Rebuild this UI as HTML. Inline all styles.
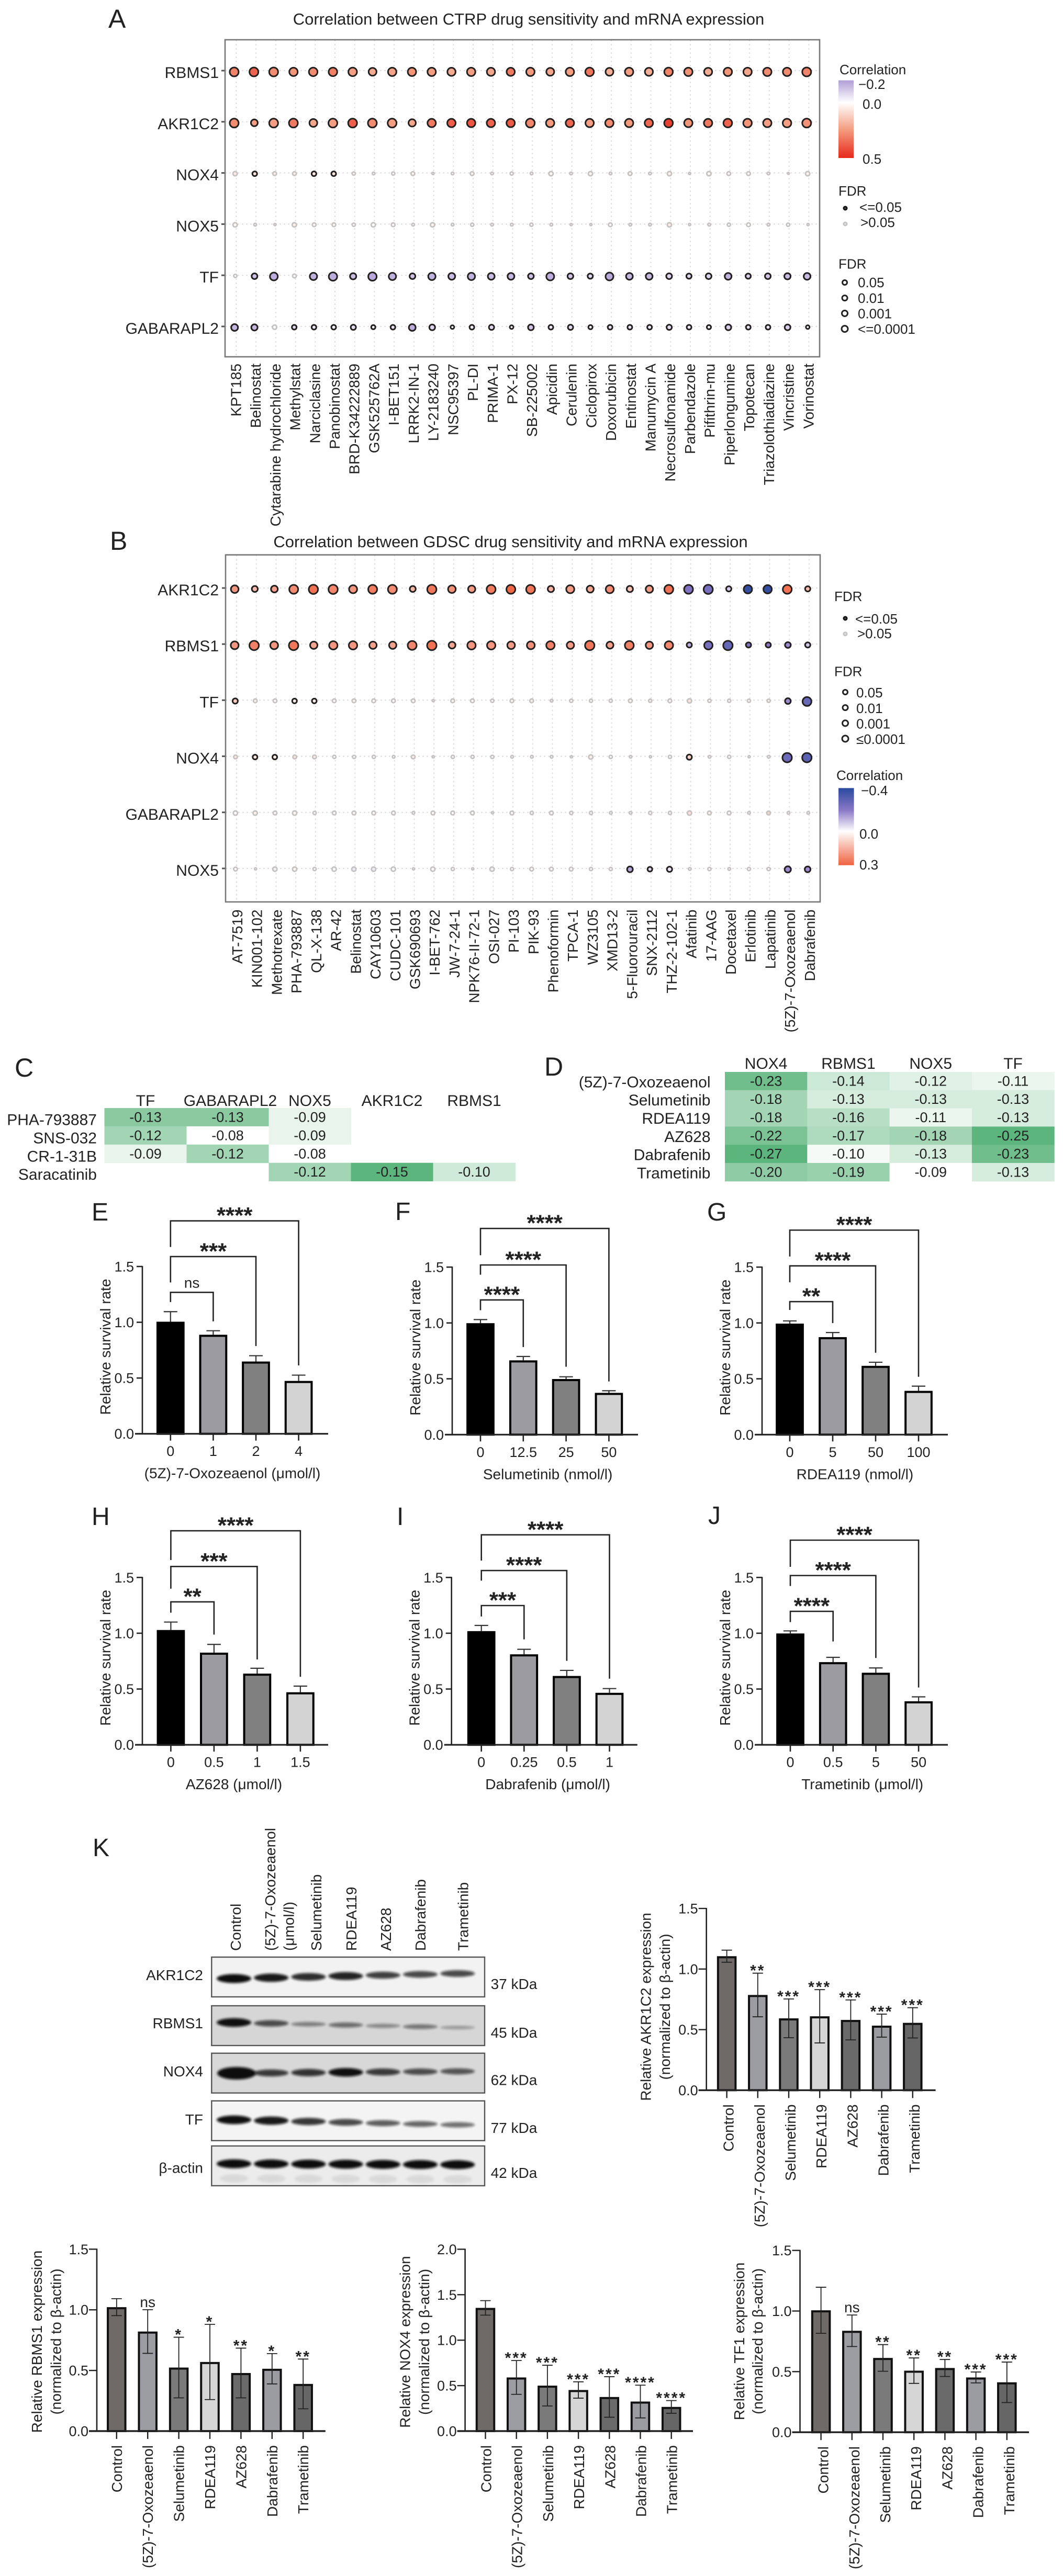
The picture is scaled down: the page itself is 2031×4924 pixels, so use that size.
<!DOCTYPE html>
<html>
<head>
<meta charset="utf-8">
<title>Drug sensitivity correlation figure</title>
<style>
html,body{margin:0;padding:0;background:#fff}
svg{display:block}
text{font-family:"Liberation Sans",sans-serif;fill:#222}
</style>
</head>
<body>
<svg id="page" width="2031" height="4924" viewBox="0 0 2031 4924">
<defs>
<linearGradient id="grad-a" x1="0" y1="0" x2="0" y2="1">
<stop offset="0" stop-color="#b09fd6"/><stop offset="0.286" stop-color="#ffffff"/><stop offset="0.643" stop-color="#f39a7d"/><stop offset="1" stop-color="#e7281a"/>
</linearGradient>
<linearGradient id="grad-b" x1="0" y1="0" x2="0" y2="1">
<stop offset="0" stop-color="#2a4a9e"/><stop offset="0.286" stop-color="#8a78c6"/><stop offset="0.56" stop-color="#ffffff"/><stop offset="1" stop-color="#ee6240"/>
</linearGradient>
<filter id="band-blur" x="-20%" y="-60%" width="140%" height="220%"><feGaussianBlur stdDeviation="2.4"/></filter>
</defs>

<g font-size="48">
<text x="207" y="53" font-size="50">A</text>
<text x="210" y="1051" font-size="50">B</text>
<text x="28" y="2058" font-size="50">C</text>
<text x="1040" y="2056" font-size="50">D</text>
<text x="175" y="2333">E</text>
<text x="755" y="2332">F</text>
<text x="1351" y="2333">G</text>
<text x="175" y="2915">H</text>
<text x="758" y="2915">I</text>
<text x="1353" y="2913">J</text>
<text x="177" y="3548">K</text>
</g>

<text x="1010" y="47" font-size="31" text-anchor="middle">Correlation between CTRP drug sensitivity and mRNA expression</text>
<text x="975.5" y="1046" font-size="31" text-anchor="middle">Correlation between GDSC drug sensitivity and mRNA expression</text>

<g id="dots-a"></g>
<g id="dots-b"></g>

<g font-size="26">
<text x="1604" y="142">Correlation</text>
<rect x="1602" y="153.6" width="29" height="148.4" fill="url(#grad-a)"/>
<text x="1640" y="170">−0.2</text>
<text x="1648" y="208">0.0</text>
<text x="1648" y="313">0.5</text>
<text x="1602" y="374">FDR</text>
<circle cx="1615" cy="398" r="3.2" fill="#444" stroke="#111" stroke-width="2.6"/>
<text x="1642" y="405">&lt;=0.05</text>
<circle cx="1615" cy="428" r="3.2" fill="#ddd" stroke="#c6c2c2" stroke-width="2.6"/>
<text x="1644" y="434">&gt;0.05</text>
<text x="1602" y="513.5">FDR</text>
<circle cx="1614" cy="540" r="4.5" fill="#fff" stroke="#222" stroke-width="3"/>
<circle cx="1614" cy="569.6" r="5" fill="#fff" stroke="#222" stroke-width="3"/>
<circle cx="1614" cy="599" r="5.5" fill="#fff" stroke="#222" stroke-width="3"/>
<circle cx="1614" cy="628.6" r="6" fill="#fff" stroke="#222" stroke-width="3"/>
<text x="1639" y="549">0.05</text>
<text x="1639" y="579">0.01</text>
<text x="1639" y="608.5">0.001</text>
<text x="1639" y="638">&lt;=0.0001</text>
</g>

<g font-size="26">
<text x="1594" y="1149">FDR</text>
<circle cx="1615" cy="1182" r="3.2" fill="#444" stroke="#111" stroke-width="2.6"/>
<text x="1634" y="1192">&lt;=0.05</text>
<circle cx="1615" cy="1211.7" r="3.2" fill="#ddd" stroke="#c6c2c2" stroke-width="2.6"/>
<text x="1638" y="1220">&gt;0.05</text>
<text x="1594" y="1292.5">FDR</text>
<circle cx="1615" cy="1323" r="4.5" fill="#fff" stroke="#222" stroke-width="3"/>
<circle cx="1615" cy="1352.6" r="5" fill="#fff" stroke="#222" stroke-width="3"/>
<circle cx="1615" cy="1382.4" r="5.5" fill="#fff" stroke="#222" stroke-width="3"/>
<circle cx="1615" cy="1412" r="6" fill="#fff" stroke="#222" stroke-width="3"/>
<text x="1636" y="1333">0.05</text>
<text x="1636" y="1363">0.01</text>
<text x="1636" y="1392.5">0.001</text>
<text x="1636" y="1422">≤0.0001</text>
<text x="1598" y="1491">Correlation</text>
<rect x="1602" y="1506.4" width="29.6" height="147.4" fill="url(#grad-b)"/>
<text x="1645" y="1520">−0.4</text>
<text x="1642" y="1603">0.0</text>
<text x="1642" y="1662">0.3</text>
</g>

<g id="heat-c"></g>
<g id="heat-d"></g>
<g id="bar-e"></g>
<g id="bar-f"></g>
<g id="bar-g"></g>
<g id="bar-h"></g>
<g id="bar-i"></g>
<g id="bar-j"></g>
<g id="blots"></g>
<g id="exp-akr"></g>
<g id="exp-rbms"></g>
<g id="exp-nox"></g>
<g id="exp-tf"></g>
</svg>

<script>
// ---------- Panel A data ----------
const genesA = ['RBMS1','AKR1C2','NOX4','NOX5','TF','GABARAPL2'];
const drugsA = ['KPT185','Belinostat','Cytarabine hydrochloride','Methylstat','Narciclasine','Panobinostat','BRD-K34222889','GSK525762A','I-BET151','LRRK2-IN-1','LY-2183240','NSC95397','PL-DI','PRIMA-1','PX-12','SB-225002','Apicidin','Cerulenin','Ciclopirox','Doxorubicin','Entinostat','Manumycin A','Necrosulfonamide','Parbendazole','Pifithrin-mu','Piperlongumine','Topotecan','Triazolothiadiazine','Vincristine','Vorinostat'];
const corrA_RBMS1 = [.30,.37,.28,.26,.28,.31,.24,.21,.23,.26,.24,.21,.24,.22,.32,.25,.22,.24,.33,.20,.24,.20,.30,.27,.21,.26,.22,.28,.28,.30];
const corrA_AKR1C2 = [.28,.24,.24,.32,.22,.24,.38,.28,.24,.22,.32,.38,.40,.37,.39,.29,.25,.36,.24,.28,.25,.36,.45,.26,.32,.37,.26,.24,.24,.27];
const corrA_NOX4 = [.05,.07,.04,.04,.06,.07,.02,.01,.02,.03,.01,.01,.03,.01,.01,.01,.02,.01,.03,.01,.03,.01,.03,.01,.02,.02,.02,.01,.01,.03];
const corrA_NOX5 = [.02,-.01,-.01,.04,.01,.02,.01,.01,.01,-.01,.03,-.01,.01,-.01,-.01,.01,-.01,-.01,-.01,.01,-.01,-.01,.05,-.01,-.01,-.01,.01,-.01,-.01,-.01];
const corrA_TF = [.01,-.13,-.17,-.01,-.16,-.17,-.14,-.18,-.16,-.13,-.16,-.14,-.16,-.14,-.15,-.13,-.17,-.12,-.08,-.18,-.15,-.15,-.09,-.09,-.09,-.16,-.10,-.12,-.14,-.14];
const corrA_GABARAPL2 = [-.15,-.15,-.01,-.08,-.05,-.03,-.07,-.03,-.06,-.17,-.09,-.02,-.04,-.08,-.02,-.12,-.05,-.08,-.03,-.07,-.06,-.05,-.07,-.05,-.03,-.1,-.06,-.05,-.1,-.02];
const fdrA_RBMS1 = [6.3,6.3,6.3,5.8,6,6,6,5.3,5.8,5.8,5.8,5.6,5.8,5.6,5.6,5.8,5.3,5.8,6,5.3,5.8,5.5,6,5.8,5.5,5.8,5.8,5.8,5.8,6.3];
const fdrA_AKR1C2 = [6.3,4.3,6.3,6.3,5.3,6.3,6.3,6.3,6.3,4.8,5.8,5.8,5.8,5.8,5.8,6.3,5.8,5.8,5.8,5.8,5.8,5.8,6.1,5.8,5.8,6.1,6,5.8,6,6.3];
const fdrA_NOX4 = [1.25,2.3,1,1,2.3,2.3,.75,.5,.75,1,.25,.5,1,.5,.75,.5,1.25,.5,1.25,.5,1,.5,1.25,.25,1.25,1,1,.5,.1,1.25];
const fdrA_NOX5 = [1.25,.5,.25,1.25,1,1,.75,1.25,1,.5,1.25,.5,.75,.5,.5,.75,.5,.25,.25,1,.5,.5,1.25,.25,.5,.75,1,.5,.75,.25];
const fdrA_TF = [.75,3.3,5.3,1,4.8,5.8,3.8,5.8,4.8,3.3,4.8,4.3,4.8,4.3,4.3,3.3,5.3,3.3,2.8,5.3,4.3,4.3,3.3,2.8,3.3,4.3,2.8,3.3,3.8,4.3];
const fdrA_GABARAPL2 = [4.3,3.8,1.25,2.3,2.3,2.3,2.8,1.8,2.3,4.3,3.3,1.3,2.3,2.8,1.3,3.3,2.3,2.8,1.8,2.3,2.3,2.3,2.8,2.3,1.8,3.3,2.3,2.3,3.3,1.3];

// ---------- Panel B data ----------
const genesB = ['AKR1C2','RBMS1','TF','NOX4','GABARAPL2','NOX5'];
const drugsB = ['AT-7519','KIN001-102','Methotrexate','PHA-793887','QL-X-138','AR-42','Belinostat','CAY10603','CUDC-101','GSK690693','I-BET-762','JW-7-24-1','NPK76-II-72-1','OSI-027','PI-103','PIK-93','Phenoformin','TPCA-1','WZ3105','XMD13-2','5-Fluorouracil','SNX-2112','THZ-2-102-1','Afatinib','17-AAG','Docetaxel','Erlotinib','Lapatinib','(5Z)-7-Oxozeaenol','Dabrafenib'];
const corrB_AKR1C2 = [.20,.13,.18,.22,.27,.23,.20,.25,.22,.14,.26,.21,.19,.25,.29,.26,.15,.19,.17,.22,.12,.19,.27,-.22,-.24,-.08,-.38,-.38,.27,.13];
const corrB_RBMS1 = [.20,.24,.20,.26,.17,.20,.20,.18,.18,.23,.27,.17,.20,.20,.19,.21,.24,.19,.26,.18,.24,.20,.23,-.12,-.24,-.28,-.22,-.20,-.17,-.08];
const corrB_TF = [.10,.03,.01,.03,.03,.01,.02,.01,.01,.02,.01,.02,.01,.01,.02,.03,.03,.01,.01,.01,.02,.03,.02,.05,.01,.01,.01,.03,-.17,-.27];
const corrB_NOX4 = [.05,.04,.03,.05,.04,.01,.01,.01,.01,.03,.01,.01,.01,.01,.01,.01,.01,.01,.03,.01,.01,.01,.01,.08,.01,.01,.01,.01,-.26,-.30];
const corrB_GABARAPL2 = [.01,.03,.01,.02,.01,.01,.01,.01,.01,.01,.01,.01,.01,.01,.01,.01,.01,.01,.01,.01,.01,.01,.01,.06,.03,.01,.01,.08,.01,.01];
const corrB_NOX5 = [.01,.01,-.02,.02,.01,-.01,-.03,-.03,-.01,.01,-.01,.01,.01,-.02,.01,.01,.01,.01,.01,.01,-.13,-.06,-.04,.01,.01,.01,.01,.01,-.17,-.17];
const fdrB_AKR1C2 = [5.1,3.5,4.3,6.3,6.6,6.6,5.5,6.3,6.3,3.5,6.6,5.1,4.7,6.3,6.3,6.3,3.8,5.5,4.5,5.5,3.8,4.8,6.3,6.3,6.6,2.8,5.8,5.8,6.3,2.8];
const fdrB_RBMS1 = [5.3,6.8,5.3,6.8,4.8,5.8,5.8,4.8,4.8,6.3,6.8,4.3,5.8,5.8,5.1,5.3,5.8,4.8,6.8,4.5,6.3,4.8,5.8,2.8,5.8,6.8,2.8,2.8,3.3,2.8];
const fdrB_TF = [2.8,1,1,2.3,2.3,1,1,1,1,1,.25,1,1,.75,1,1,.5,.75,.75,.75,1,.75,1,1.25,.75,.75,.75,.75,3.3,6.3];
const fdrB_NOX4 = [1,2.3,2.3,1,1,.75,.75,.75,.5,1,.25,.75,.75,.75,.5,.5,.5,.25,1.25,.75,.4,.25,.75,2.8,.5,.75,.25,.5,6.8,6.8];
const fdrB_GABARAPL2 = [1.25,1.25,1,1.25,.75,1,1,1,1,.5,1,1,1,.25,1,.75,1,.75,.75,.5,.5,.75,.75,1.25,1,1,.5,1,.5,.5];
const fdrB_NOX5 = [1,.25,1.25,1.25,.75,1.25,1.25,1.29,1.25,.25,1.25,.75,.25,1.25,.75,1,1,1,.75,.75,3.3,2.3,2.8,.5,.75,.5,.75,.75,3.8,3.3];

// ---------- Heatmap data ----------
const heatCCols = ['TF','GABARAPL2','NOX5','AKR1C2','RBMS1'];
const heatCRows = ['PHA-793887','SNS-032','CR-1-31B','Saracatinib'];
const heatC_PHA = [-0.13,-0.13,-0.09,null,null];
const heatC_SNS = [-0.12,-0.08,-0.09,null,null];
const heatC_CR = [-0.09,-0.12,-0.08,null,null];
const heatC_Sara = [null,null,-0.12,-0.15,-0.10];
const heatDCols = ['NOX4','RBMS1','NOX5','TF'];
const heatDRows = ['(5Z)-7-Oxozeaenol','Selumetinib','RDEA119','AZ628','Dabrafenib','Trametinib'];
const heatD_Oxo = [-0.23,-0.14,-0.12,-0.11];
const heatD_Sel = [-0.18,-0.13,-0.13,-0.13];
const heatD_RDEA = [-0.18,-0.16,-0.11,-0.13];
const heatD_AZ = [-0.22,-0.17,-0.18,-0.25];
const heatD_Dab = [-0.27,-0.10,-0.13,-0.23];
const heatD_Tra = [-0.20,-0.19,-0.09,-0.13];

// ---------- Survival bar data ----------
const yTicks15 = [0,0.5,1,1.5];
const yTicks20 = [0,0.5,1,1.5,2];
const dosesE = ['0','1','2','4'];
const valuesE = [1.005,0.888,0.648,0.474];
const errorsE = [0.09,0.036,0.052,0.052];
const bracketsE = [[0,3,1.909,1.675,0.613,'****'],[0,2,1.589,1.357,0.787,'***'],[0,1,1.268,1.181,1.008,'ns']];
const dosesF = ['0','12.5','25','50'];
const valuesF = [0.998,0.665,0.498,0.374];
const errorsF = [0.032,0.035,0.02,0.019];
const bracketsF = [[0,3,1.846,1.606,0.476,'****'],[0,2,1.519,1.432,0.608,'****'],[0,1,1.206,1.114,0.784,'****']];
const dosesG = ['0','5','50','100'];
const valuesG = [0.994,0.873,0.616,0.392];
const errorsG = [0.024,0.041,0.032,0.042];
const bracketsG = [[0,3,1.831,1.595,0.518,'****'],[0,2,1.511,1.364,0.733,'****'],[0,1,1.191,1.116,0.999,'**']];
const dosesH = ['0','0.5','1','1.5'];
const valuesH = [1.029,0.826,0.638,0.471];
const errorsH = [0.071,0.074,0.048,0.055];
const bracketsH = [[0,3,1.918,1.656,0.61,'****'],[0,2,1.598,1.399,0.765,'***'],[0,1,1.281,1.184,0.988,'**']];
const dosesI = ['0','0.25','0.5','1'];
const valuesI = [1.019,0.811,0.617,0.466];
const errorsI = [0.051,0.045,0.05,0.038];
const bracketsI = [[0,3,1.882,1.651,0.593,'****'],[0,2,1.562,1.471,0.753,'****'],[0,1,1.248,1.15,0.945,'***']];
const dosesJ = ['0','0.5','5','50'];
const valuesJ = [0.998,0.741,0.646,0.39];
const errorsJ = [0.023,0.043,0.043,0.04];
const bracketsJ = [[0,3,1.834,1.595,0.514,'****'],[0,2,1.517,1.423,0.778,'****'],[0,1,1.196,1.1,0.926,'****']];

// ---------- Expression bar data ----------
const treatments = ['Control','(5Z)-7-Oxozeaenol','Selumetinib','RDEA119','AZ628','Dabrafenib','Trametinib'];
const valuesAKR = [1.106,0.786,0.593,0.61,0.58,0.533,0.556];
const errorsAKR = [0.05,0.18,0.16,0.22,0.165,0.095,0.125];
const marksAKR = ['','**','***','***','***','***','***'];
const valuesRBMS = [1.022,0.821,0.524,0.57,0.479,0.514,0.389];
const errorsRBMS = [0.07,0.18,0.25,0.31,0.205,0.125,0.205];
const marksRBMS = ['','ns','*','*','**','*','**'];
const valuesNOX = [1.355,0.59,0.5,0.452,0.375,0.325,0.266];
const errorsNOX = [0.08,0.186,0.224,0.09,0.223,0.18,0.07];
const marksNOX = ['','***','***','***','***','****','****'];
const valuesTF = [1.006,0.837,0.613,0.508,0.53,0.452,0.412];
const errorsTF = [0.19,0.13,0.11,0.105,0.07,0.045,0.167];
const marksTF = ['','ns','**','**','**','***','***'];

// ---------- Blot data (relative band intensity per lane) ----------
const blotLanes = ['Control','(5Z)-7-Oxozeaenol','Selumetinib','RDEA119','AZ628','Dabrafenib','Trametinib'];
const bandsAKR1C2 = [1,0.9,0.8,0.85,0.7,0.65,0.65];
const bandsRBMS1 = [0.95,0.6,0.3,0.4,0.25,0.35,0.15];
const bandsNOX4 = [1.6,0.7,0.75,0.95,0.7,0.6,0.55];
const bandsTF = [0.95,0.9,0.75,0.65,0.55,0.5,0.45];
const bandsActin = [1,1,1,1,1,1,1];

// ---------- Helpers ----------
const root = document.getElementById('page');
const NS = root.namespaceURI;
function mk(tag, attrs, parent){
  const e = document.createElementNS(NS, tag);
  for (const k in attrs) e.setAttribute(k, attrs[k]);
  parent.appendChild(e);
  return e;
}
function label(str, attrs, parent){
  const e = mk('text', attrs, parent);
  e.textContent = str;
  return e;
}
function hex(c){ return [parseInt(c.slice(1,3),16),parseInt(c.slice(3,5),16),parseInt(c.slice(5,7),16)]; }
function mix(a,b,t){
  const A=hex(a),B=hex(b);
  return 'rgb('+A.map((v,i)=>Math.round(v+(B[i]-v)*t)).join(',')+')';
}
function colorA(v){
  if (v<0) return mix('#ffffff','#b09fd6',Math.min(1,-v/0.2));
  if (v<0.25) return mix('#ffffff','#f39a7d',v/0.25);
  return mix('#f39a7d','#e7281a',Math.min(1,(v-0.25)/0.25));
}
function colorB(v){
  if (v<-0.2) return mix('#8a78c6','#2a4a9e',Math.min(1,(-v-0.2)/0.2));
  if (v<0) return mix('#ffffff','#8a78c6',-v/0.2);
  return mix('#ffffff','#ee6240',Math.min(1,v/0.3));
}
function dotRadius(mlogFdr){ return mlogFdr<1.3 ? 3+2*mlogFdr : 3.7+mlogFdr; }

// ---------- Dot plots ----------
function drawDotPlot(id, box, genes, drugs, corrRows, fdrRows, colorOf, rowLabelOffset){
  const g = document.getElementById(id);
  const gridX = i => box.gx0 + i*box.gstep;
  const rowY = j => box.ry0 + j*box.rstep;
  drugs.forEach((d,i)=>{
    const l = mk('line',{x1:gridX(i),x2:gridX(i),y1:box.top,y2:box.bottom,stroke:'#dedede','stroke-width':2,'stroke-dasharray':'3 5'},g);
    
    
    const t = label(d,{x:0,y:0,'font-size':28,'text-anchor':'end',transform:'translate('+(gridX(i)+box.labelDx)+','+box.labelTop+') rotate(-90)'},g);
    
    
  });
  genes.forEach((name,j)=>{
    const l = mk('line',{x1:box.left,x2:box.right,y1:rowY(j),y2:rowY(j),stroke:'#dedede','stroke-width':2,'stroke-dasharray':'3 5'},g);
    
    
    const tk = mk('line',{x1:box.left-7,x2:box.left,y1:rowY(j),y2:rowY(j),stroke:'#555','stroke-width':3},g);
    
    
    const t = label(name,{x:418,y:rowY(j)+rowLabelOffset,'font-size':30,'text-anchor':'end'},g);
    
    
  });
  const frame = mk('rect',{x:box.left,y:box.top,width:box.right-box.left,height:box.bottom-box.top,fill:'none',stroke:'#777','stroke-width':2.6},g);
  
  
  genes.forEach((name,j)=>{
    drugs.forEach((d,i)=>{
      const v = fdrRows[j][i];
      const r = dotRadius(v);
      const sig = v>=1.3;
      const sw = sig ? 3 : 2.8;
      const base = colorOf(corrRows[j][i]);
      const c = mk('circle',{cx:gridX(i)-0.4*r,cy:rowY(j)+0.25*r,r:r-sw/2,fill:base,stroke:sig?'#241f1f':'#c6c2c2','stroke-width':sw},g);
      
      
    });
  });
}
drawDotPlot('dots-a',{left:430,right:1566,top:76,bottom:682,gx0:451.4,gstep:37.72,ry0:135,rstep:97.8,labelDx:9,labelTop:695},genesA,drugsA,
  [corrA_RBMS1,corrA_AKR1C2,corrA_NOX4,corrA_NOX5,corrA_TF,corrA_GABARAPL2],
  [fdrA_RBMS1,fdrA_AKR1C2,fdrA_NOX4,fdrA_NOX5,fdrA_TF,fdrA_GABARAPL2],colorA,14);
drawDotPlot('dots-b',{left:431,right:1567,top:1060.6,bottom:1724,gx0:452,gstep:37.72,ry0:1124,rstep:107.2,labelDx:11,labelTop:1738.5},genesB,drugsB,
  [corrB_AKR1C2,corrB_RBMS1,corrB_TF,corrB_NOX4,corrB_GABARAPL2,corrB_NOX5],
  [fdrB_AKR1C2,fdrB_RBMS1,fdrB_TF,fdrB_NOX4,fdrB_GABARAPL2,fdrB_NOX5],colorB,14);

// ---------- Heatmaps ----------
function drawHeat(id, lay, cols, rows, grid, lo, span){
  const g = document.getElementById(id);
  const xS = i => lay.x0 + i*lay.w;
  const yS = j => lay.y0 + j*lay.h;
  cols.forEach((c,i)=>{
    const t = label(c,{x:xS(i)+lay.w/2+(lay.colNudge[i]||0),y:lay.colBase,'font-size':30,'text-anchor':'middle'},g);
    
    
  });
  rows.forEach((r,j)=>{
    const t = label(r,{x:lay.rowRight,y:yS(j)+lay.h/2+lay.rowDy,'font-size':30,'text-anchor':'end'},g);
    
    
    grid[j].forEach((v,i)=>{
      if (v===null) return;
      const f = Math.max(0,Math.min(1,(Math.abs(v)-lo)/span));
      const cell = mk('rect',{x:xS(i),y:yS(j),width:lay.w+0.5,height:lay.h+0.5,fill:mix('#ffffff','#5cb57c',f)},g);
      
      
      const tv = label(v.toFixed(2),{x:xS(i)+lay.w/2,y:yS(j)+lay.h/2+9,'font-size':27,'text-anchor':'middle'},g);
      
      
    });
  });
}
drawHeat('heat-c',{x0:199.5,y0:2118,w:157,h:34.9,colBase:2114,rowRight:185,rowDy:15,colNudge:[0,5,0,0,0]},heatCCols,heatCRows,[heatC_PHA,heatC_SNS,heatC_CR,heatC_Sara],0.08,0.07);
drawHeat('heat-d',{x0:1385,y0:2049,w:157.3,h:34.8,colBase:2043,rowRight:1357.5,rowDy:12,colNudge:[0,0,0,0]},heatDCols,heatDRows,[heatD_Oxo,heatD_Sel,heatD_RDEA,heatD_AZ,heatD_Dab,heatD_Tra],0.09,0.16);

// ---------- Survival bar charts ----------
const doseFills = ['#000000','#9c9ca0','#808080','#d3d3d3'];
function drawSurvival(id, lay, doses, values, errors, brackets, xTitle){
  const g = document.getElementById(id);
  const xS = i => lay.x0 + i*lay.step;
  const yS = v => lay.y0 - v*lay.ppu;
  const barW = 53.7;
  values.forEach((v,i)=>{
    const eLine = mk('line',{x1:xS(i),x2:xS(i),y1:yS(v),y2:yS(v+errors[i]),stroke:'#333','stroke-width':2.2},g);
    
    
    const cap = mk('line',{x1:xS(i)-13,x2:xS(i)+13,y1:yS(v+errors[i]),y2:yS(v+errors[i]),stroke:'#333','stroke-width':2.2},g);
    
    
    const b = mk('rect',{x:xS(i)-barW/2+2,y:yS(v)+2,width:barW-4,height:v*lay.ppu-2,fill:doseFills[i],stroke:'#000','stroke-width':4},g);
    
    
    const tk = mk('line',{x1:xS(i),x2:xS(i),y1:lay.y0,y2:lay.y0+13,stroke:'#222','stroke-width':2.6},g);
    
    
    const t = label(doses[i],{x:xS(i),y:lay.y0+42.5,'font-size':27,'text-anchor':'middle'},g);
    
    
  });
  const ax = mk('line',{x1:lay.axisX,x2:lay.axisX,y1:yS(1.5)-1,y2:lay.y0,stroke:'#222','stroke-width':2.6},g);
  
  
  const bx = mk('line',{x1:lay.axisX-14,x2:lay.axisX+355,y1:lay.y0,y2:lay.y0,stroke:'#222','stroke-width':3.2},g);
  
  
  yTicks15.forEach(v=>{
    const tk = mk('line',{x1:lay.axisX-11,x2:lay.axisX,y1:yS(v),y2:yS(v),stroke:'#222','stroke-width':2.6},g);
    
    
    const t = label(v.toFixed(1),{x:lay.axisX-16,y:yS(v)+9.5,'font-size':27,'text-anchor':'end'},g);
    
    
  });
  const yt = label('Relative survival rate',{x:0,y:0,'font-size':28,'text-anchor':'middle',transform:'translate('+(lay.axisX-61)+','+(yS(0.78))+') rotate(-90)'},g);
  
  
  const xt = label(xTitle,{x:lay.titleX,y:lay.y0+85,'font-size':28,'text-anchor':'middle'},g);
  
  
  brackets.forEach(br=>{
    const x1=xS(br[0]),x2=xS(br[1]);
    const p = mk('polyline',{points:x1+','+yS(br[3])+' '+x1+','+yS(br[2])+' '+x2+','+yS(br[2])+' '+x2+','+yS(br[4]),fill:'none',stroke:'#222','stroke-width':2.6},g);
    
    
    const isNs = br[5]==='ns';
    const s = label(br[5],{x:(x1+x2)/2,y:isNs?yS(br[2])-9:yS(br[2])+4.5,'font-size':isNs?28:44,'font-weight':isNs?'normal':'bold','text-anchor':'middle'},g);
    
    
  });
}
drawSurvival('bar-e',{x0:325.8,step:81.6,y0:2740.7,ppu:213.2,axisX:272,titleX:444},dosesE,valuesE,errorsE,bracketsE,'(5Z)-7-Oxozeaenol (μmol/l)');
drawSurvival('bar-f',{x0:918,step:81.8,y0:2742.3,ppu:213.5,axisX:864,titleX:1046.6},dosesF,valuesF,errorsF,bracketsF,'Selumetinib (nmol/l)');
drawSurvival('bar-g',{x0:1509,step:82,y0:2742.3,ppu:213.5,axisX:1456,titleX:1633.4},dosesG,valuesG,errorsG,bracketsG,'RDEA119 (nmol/l)');
drawSurvival('bar-h',{x0:326.4,step:82.5,y0:3335.2,ppu:213.3,axisX:272,titleX:447},dosesH,valuesH,errorsH,bracketsH,'AZ628 (μmol/l)');
drawSurvival('bar-i',{x0:919.7,step:81.6,y0:3335.2,ppu:213.3,axisX:862.7,titleX:1046.6},dosesI,valuesI,errorsI,bracketsI,'Dabrafenib (μmol/l)');
drawSurvival('bar-j',{x0:1510,step:81.7,y0:3335.2,ppu:213.3,axisX:1456,titleX:1647.7},dosesJ,valuesJ,errorsJ,bracketsJ,'Trametinib (μmol/l)');

// ---------- Western blots ----------
function drawBlot(name, kda, lay, bands){
  const g = document.getElementById('blots');
  const bg = mk('rect',{x:404.3,y:lay.top,width:521.7,height:76,fill:lay.bg},g);
  
  
  bands.forEach((v,i)=>{
    const cx = 447 + i*71.2;
    const cy = lay.bandY + lay.tilt*i;
    const big = v>1.2;
    const b = mk('ellipse',{cx:big?cx+5:cx,cy:cy,rx:big?37:33,ry:big?12:(2.5+6*Math.min(v,1)),fill:'#0a0a0a',opacity:Math.min(1,0.18+0.85*v),filter:'url(#band-blur)'},g);
    
    
    if (lay.smear){
      const sm = mk('ellipse',{cx:cx,cy:cy+28,rx:27,ry:8,fill:'#888',opacity:0.18,filter:'url(#band-blur)'},g);
      
      
    }
  });
  const fr = mk('rect',{x:404.3,y:lay.top,width:521.7,height:76,fill:'none',stroke:'#555','stroke-width':2.4},g);
  
  
  const t = label(name,{x:388,y:lay.nameY,'font-size':28,'text-anchor':'end'},g);
  
  
  const k = label(kda,{x:937.6,y:lay.top+61,'font-size':28},g);
  
  
}
drawBlot('AKR1C2','37 kDa',{top:3741,bg:'#f2f2f2',bandY:3782,tilt:-1.6,nameY:3785},bandsAKR1C2);
drawBlot('RBMS1','45 kDa',{top:3834,bg:'#d6d6d6',bandY:3866,tilt:1.6,nameY:3877},bandsRBMS1);
drawBlot('NOX4','62 kDa',{top:3924.7,bg:'#d8d8d8',bandY:3963,tilt:-0.6,nameY:3969},bandsNOX4);
drawBlot('TF','77 kDa',{top:4015.8,bg:'#f4f4f4',bandY:4052,tilt:1.6,nameY:4061},bandsTF);
drawBlot('β-actin','42 kDa',{top:4102,bg:'#ececec',bandY:4136,tilt:0.3,nameY:4153.5,smear:true},bandsActin);
const laneBaselines = [460,526,613.8,681,747,813,894.5];
const blotGroup = document.getElementById('blots');
blotLanes.forEach((lane,i)=>{
  const t = label(lane,{x:0,y:0,'font-size':28,transform:'translate('+laneBaselines[i]+',3729) rotate(-90)'},blotGroup);
  
  
});
const unitLabel = label('(μmol/l)',{x:0,y:0,'font-size':28,transform:'translate(561.6,3729) rotate(-90)'},blotGroup);



// ---------- Expression charts ----------
const treatmentFills = ['#6f6a68','#9c9ca3','#7a7a7a','#d6d6d6','#6a6a6a','#9b9ba2','#666666'];
function drawExpression(id, lay, values, errors, marks, ticks, line1){
  const g = document.getElementById(id);
  const xS = i => lay.x0 + i*lay.step;
  const yS = v => lay.y0 - v*lay.ppu;
  const barW = 37.5;
  values.forEach((v,i)=>{
    const b = mk('rect',{x:xS(i)-barW/2+2,y:yS(v)+2,width:barW-4,height:v*lay.ppu-2,fill:treatmentFills[i],stroke:'#111','stroke-width':4},g);
    
    
    const e = mk('line',{x1:xS(i),x2:xS(i),y1:yS(v-errors[i]),y2:yS(v+errors[i]),stroke:'#222','stroke-width':1.8},g);
    
    
    [v-errors[i],v+errors[i]].forEach(w=>{
      const c = mk('line',{x1:xS(i)-10,x2:xS(i)+10,y1:yS(w),y2:yS(w),stroke:'#222','stroke-width':1.8},g);
      
      
    });
    const tk = mk('line',{x1:xS(i),x2:xS(i),y1:lay.y0,y2:lay.y0+15,stroke:'#222','stroke-width':2.4},g);
    
    
    const t = label(treatments[i],{x:0,y:0,'font-size':28,'text-anchor':'end',transform:'translate('+(xS(i)+lay.labelDx)+','+(lay.y0+27)+') rotate(-90)'},g);
    
    
    if (marks[i]){
      const ns = marks[i]==='ns';
      const m = label(marks[i],{x:xS(i),y:ns?yS(v+errors[i])-5:yS(v+errors[i])+5,'font-size':ns?28:30,'font-weight':ns?'normal':'bold','letter-spacing':ns?0:3,'text-anchor':'middle'},g);
      
      
    }
  });
  const top = ticks[ticks.length-1];
  const ax = mk('line',{x1:lay.axisX,x2:lay.axisX,y1:yS(top)-1,y2:lay.y0,stroke:'#222','stroke-width':2.6},g);
  
  
  const bx = mk('line',{x1:lay.axisX-15,x2:lay.xEnd,y1:lay.y0,y2:lay.y0,stroke:'#222','stroke-width':3.4},g);
  
  
  ticks.forEach(v=>{
    const tk = mk('line',{x1:lay.axisX-15,x2:lay.axisX,y1:yS(v),y2:yS(v),stroke:'#222','stroke-width':2.4},g);
    
    
    const t = label(v.toFixed(1),{x:lay.axisX-16,y:yS(v)+9.5,'font-size':27,'text-anchor':'end'},g);
    
    
  });
  const y1 = label(line1,{x:0,y:0,'font-size':28,'text-anchor':'middle',transform:'translate('+lay.title1X+','+lay.titleY+') rotate(-90)'},g);
  
  
  const y2 = label('(normalized to β-actin)',{x:0,y:0,'font-size':28,'text-anchor':'middle',transform:'translate('+lay.title2X+','+lay.titleY+') rotate(-90)'},g);
  
  
}
drawExpression('exp-akr',{x0:1388.6,step:59.2,y0:3995.4,ppu:231.6,axisX:1349.7,xEnd:1787.6,labelDx:13,title1X:1243.5,title2X:1280,titleY:3836},valuesAKR,errorsAKR,marksAKR,yTicks15,'Relative AKR1C2 expression');
drawExpression('exp-rbms',{x0:222.8,step:59.4,y0:4647,ppu:231.8,axisX:185,xEnd:621.8,labelDx:10,title1X:80,title2X:116.6,titleY:4476},valuesRBMS,errorsRBMS,marksRBMS,yTicks15,'Relative RBMS1 expression');
drawExpression('exp-nox',{x0:927.5,step:59.2,y0:4647,ppu:173.8,axisX:888.6,xEnd:1324,labelDx:11,title1X:783.7,title2X:820,titleY:4476.5},valuesNOX,errorsNOX,marksNOX,yTicks20,'Relative NOX4 expression');
drawExpression('exp-tf',{x0:1568.6,step:59.2,y0:4649.2,ppu:231.7,axisX:1528.5,xEnd:1966,labelDx:14,title1X:1422,title2X:1457,titleY:4475.4},valuesTF,errorsTF,marksTF,yTicks15,'Relative TF1 expression');
</script>
</body>
</html>
